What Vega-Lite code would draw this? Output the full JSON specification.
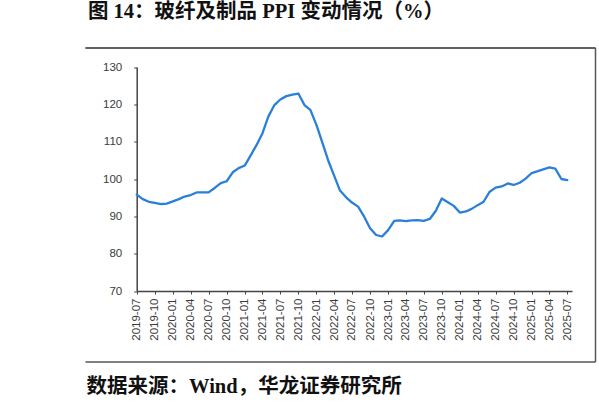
{
  "$schema": "https://vega.github.io/schema/vega-lite/v6.json",
  "autosize": {"type": "none"},
  "padding": {"left": 85, "top": 47.5, "right": 4, "bottom": 47.5},
  "width": 510,
  "height": 314,
  "config": {"view": {"stroke": null}},
  "title": {
    "text": "图 14：玻纤及制品 PPI 变动情况（%）",
    "anchor": "start",
    "frame": "group",
    "dx": 3,
    "offset": 13,
    "font": "Liberation Serif, Noto Sans CJK SC",
    "fontSize": 20.5,
    "fontWeight": "bold",
    "color": "#111111"
  },
  "resolve": {"scale": {"x": "independent", "y": "independent"}, "axis": {"x": "independent", "y": "independent"}},
  "layer": [
    {
      "data": {
        "values": [
          {"date": "2019-07-01", "ppi": 95.8},
          {"date": "2019-08-01", "ppi": 94.6},
          {"date": "2019-09-01", "ppi": 93.9},
          {"date": "2019-10-01", "ppi": 93.6},
          {"date": "2019-11-01", "ppi": 93.3},
          {"date": "2019-12-01", "ppi": 93.4},
          {"date": "2020-01-01", "ppi": 94.0},
          {"date": "2020-02-01", "ppi": 94.6},
          {"date": "2020-03-01", "ppi": 95.3},
          {"date": "2020-04-01", "ppi": 95.7},
          {"date": "2020-05-01", "ppi": 96.4},
          {"date": "2020-06-01", "ppi": 96.4},
          {"date": "2020-07-01", "ppi": 96.4},
          {"date": "2020-08-01", "ppi": 97.6},
          {"date": "2020-09-01", "ppi": 98.9},
          {"date": "2020-10-01", "ppi": 99.4},
          {"date": "2020-11-01", "ppi": 101.8},
          {"date": "2020-12-01", "ppi": 102.9},
          {"date": "2021-01-01", "ppi": 103.6},
          {"date": "2021-02-01", "ppi": 106.4},
          {"date": "2021-03-01", "ppi": 109.0},
          {"date": "2021-04-01", "ppi": 112.2},
          {"date": "2021-05-01", "ppi": 116.7},
          {"date": "2021-06-01", "ppi": 119.8},
          {"date": "2021-07-01", "ppi": 121.3},
          {"date": "2021-08-01", "ppi": 122.2},
          {"date": "2021-09-01", "ppi": 122.6},
          {"date": "2021-10-01", "ppi": 122.9},
          {"date": "2021-11-01", "ppi": 119.8},
          {"date": "2021-12-01", "ppi": 118.5},
          {"date": "2022-01-01", "ppi": 114.5},
          {"date": "2022-02-01", "ppi": 109.6},
          {"date": "2022-03-01", "ppi": 105.1},
          {"date": "2022-04-01", "ppi": 100.9},
          {"date": "2022-05-01", "ppi": 96.9},
          {"date": "2022-06-01", "ppi": 95.1},
          {"date": "2022-07-01", "ppi": 93.7},
          {"date": "2022-08-01", "ppi": 92.6},
          {"date": "2022-09-01", "ppi": 89.9},
          {"date": "2022-10-01", "ppi": 86.8},
          {"date": "2022-11-01", "ppi": 85.0},
          {"date": "2022-12-01", "ppi": 84.6},
          {"date": "2023-01-01", "ppi": 86.3},
          {"date": "2023-02-01", "ppi": 88.8},
          {"date": "2023-03-01", "ppi": 88.9},
          {"date": "2023-04-01", "ppi": 88.7},
          {"date": "2023-05-01", "ppi": 88.9},
          {"date": "2023-06-01", "ppi": 89.0},
          {"date": "2023-07-01", "ppi": 88.8},
          {"date": "2023-08-01", "ppi": 89.3},
          {"date": "2023-09-01", "ppi": 91.5},
          {"date": "2023-10-01", "ppi": 94.8},
          {"date": "2023-11-01", "ppi": 93.8},
          {"date": "2023-12-01", "ppi": 92.8},
          {"date": "2024-01-01", "ppi": 91.0},
          {"date": "2024-02-01", "ppi": 91.3},
          {"date": "2024-03-01", "ppi": 92.0},
          {"date": "2024-04-01", "ppi": 93.0},
          {"date": "2024-05-01", "ppi": 93.9},
          {"date": "2024-06-01", "ppi": 96.6},
          {"date": "2024-07-01", "ppi": 97.7},
          {"date": "2024-08-01", "ppi": 98.0},
          {"date": "2024-09-01", "ppi": 98.8},
          {"date": "2024-10-01", "ppi": 98.4},
          {"date": "2024-11-01", "ppi": 99.0},
          {"date": "2024-12-01", "ppi": 100.1},
          {"date": "2025-01-01", "ppi": 101.6},
          {"date": "2025-02-01", "ppi": 102.1},
          {"date": "2025-03-01", "ppi": 102.6},
          {"date": "2025-04-01", "ppi": 103.1},
          {"date": "2025-05-01", "ppi": 102.8},
          {"date": "2025-06-01", "ppi": 100.0},
          {"date": "2025-07-01", "ppi": 99.7}
        ]
      },
      "mark": {"type": "line", "color": "#2a7fd9", "strokeWidth": 2.3, "strokeJoin": "round", "strokeCap": "round"},
      "encoding": {
        "x": {
          "field": "date",
          "type": "temporal",
          "scale": {"type": "utc", "domain": [1561939200000, 1753401600000], "range": [51.7, 487]},
          "axis": {
            "orient": "bottom",
            "offset": -70.5,
            "tickCount": {"interval": "month", "step": 3},
            "labelExpr": "utcFormat(datum.value, '%Y-%m')",
            "labelAngle": -90,
            "labelFont": "Liberation Sans",
            "labelFontSize": 11.5,
            "labelColor": "#3a3a3a",
            "labelPadding": 4,
            "labelOverlap": false,
            "labelFlush": false,
            "grid": false,
            "domainColor": "#444444",
            "domainWidth": 1.5,
            "tickColor": "#444444",
            "tickSize": 3,
            "tickWidth": 1,
            "title": "数据来源：Wind，华龙证券研究所",
            "titleFont": "Liberation Serif, Noto Sans CJK SC",
            "titleFontSize": 20.5,
            "titleFontWeight": "bold",
            "titleColor": "#111111",
            "titleAnchor": "start",
            "titleAlign": "left",
            "titleBaseline": "middle",
            "titleX": 1,
            "titleY": 95.5
          }
        },
        "y": {
          "field": "ppi",
          "type": "quantitative",
          "scale": {"domain": [70, 130], "range": [243.5, 19.5], "zero": false, "nice": false},
          "axis": {
            "orient": "left",
            "offset": -51.7,
            "values": [70, 80, 90, 100, 110, 120, 130],
            "labelFont": "Liberation Sans",
            "labelFontSize": 11.5,
            "labelColor": "#3a3a3a",
            "labelPadding": 12,
            "grid": false,
            "domainColor": "#444444",
            "domainWidth": 1.5,
            "tickColor": "#444444",
            "tickSize": 3,
            "title": null
          }
        }
      }
    },
    {
      "data": {"values": [{"edge": 0.5}]},
      "mark": {"type": "point", "opacity": 0},
      "encoding": {
        "x": {
          "field": "edge",
          "type": "quantitative",
          "scale": {"domain": [0, 1], "range": [0, 510]},
          "axis": {
            "orient": "top",
            "values": [0, 1],
            "labelOpacity": 0,
            "ticks": false,
            "grid": false,
            "title": null,
            "domainColor": "#555555",
            "domainWidth": 1.5
          }
        },
        "y": {
          "field": "edge",
          "type": "quantitative",
          "scale": {"domain": [0, 1], "range": [314, 0]},
          "axis": {
            "orient": "right",
            "values": [0, 1],
            "labelOpacity": 0,
            "ticks": false,
            "title": null,
            "grid": true,
            "gridColor": "#555555",
            "gridWidth": 1.5,
            "gridOpacity": 1,
            "domainColor": "#555555",
            "domainWidth": 1.5
          }
        }
      }
    }
  ]
}
